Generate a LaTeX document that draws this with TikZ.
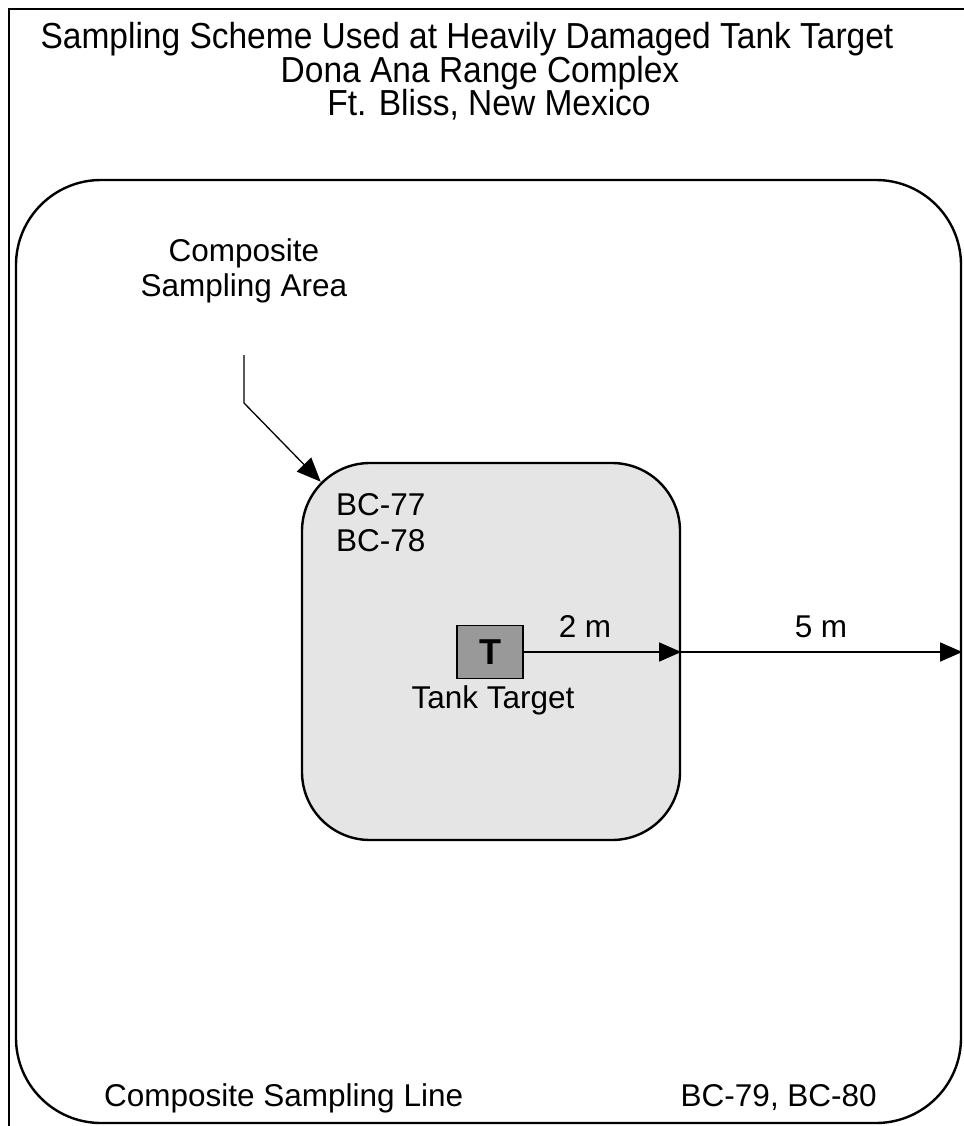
\documentclass[tikz,border=0pt]{standalone}
\usepackage{fontspec}
\setmainfont{Liberation Sans}
\usepackage{tikz}
\usetikzlibrary{arrows.meta,positioning,calc}
\tikzset{
    region/.style={draw, line width=2.4pt, rounded corners=85pt, inner sep=0pt},
    area/.style={draw, fill=black!10, line width=2.4pt, rounded corners=68pt, inner sep=0pt},
    tankbox/.style={draw, fill=black!40, line width=1.8pt, minimum width=66pt, minimum height=53pt, inner sep=0pt},
    txt/.style={font=\fontsize{31.5}{35}\selectfont, inner sep=0pt},
    head/.style={font=\fontsize{33.5}{36}\selectfont, inner sep=0pt, yscale=1.08},
    dim/.style={line width=1.3pt, -{Triangle[length=22pt,width=19pt]}},
    lead/.style={line width=1.3pt, -{Triangle[length=24pt,width=20pt]}},
}

\begin{document}
\begin{tikzpicture}[x=1pt, y=-1pt]
    \useasboundingbox (0,0) rectangle (963,1126);
    % page frame
    \draw[line width=1.8pt] (9,1140) -- (9,9) -- (980,9);

    % title
    \node[head, anchor=base] (title1) at (467,49) {Sampling Scheme Used at Heavily Damaged Tank Target};
    \node[head, anchor=base] (title2) at (480,83) {Dona Ana Range Complex};
    \node[head, anchor=base] (title3) at (489,116) {Ft. Bliss, New Mexico};

    % composite sampling line and area
    \node[region, minimum width=945pt, minimum height=943pt] (line) at (488.5,651.5) {};
    \node[area, minimum width=378pt, minimum height=377pt] (area) at (491,651.5) {};

    % tank target
    \node[tankbox] (tank) at (490,652) {};
    \node[txt, font=\fontsize{36}{36}\selectfont\bfseries] (T) at (tank) {T};
    \node[txt, anchor=base] (tanklbl) at (493,708) {Tank Target};

    % sample ids
    \node[txt, anchor=base west] (bc77) at (336,515) {BC-77};
    \node[txt, anchor=base west] (bc78) at (336,551) {BC-78};

    % distances
    \coordinate (edge) at (line.east |- tank.east);
    \draw[dim] (tank.east) -- (area.east |- tank.east);
    \draw[dim] (area.east |- tank.east) -- (edge);
    \node[txt, anchor=base] (d2) at (585,637) {2 m};
    \node[txt, anchor=base] (d5) at (821,637) {5 m};

    % leader to the area
    \node[txt, align=center, anchor=base] (arealbl) at (244,296) {Composite\\Sampling Area};
    \coordinate (bend) at (244,403);
    \coordinate (corner) at ($(area.north west)+(68,68)+(225:68)$);
    \draw[lead] (244,355) -- (bend) -- (corner);

    % bottom labels
    \node[txt, anchor=base west] (linelbl) at (104,1106) {Composite Sampling Line};
    \node[txt, anchor=base east] (bc79) at (877,1106) {BC-79, BC-80};
\end{tikzpicture}
\end{document}
